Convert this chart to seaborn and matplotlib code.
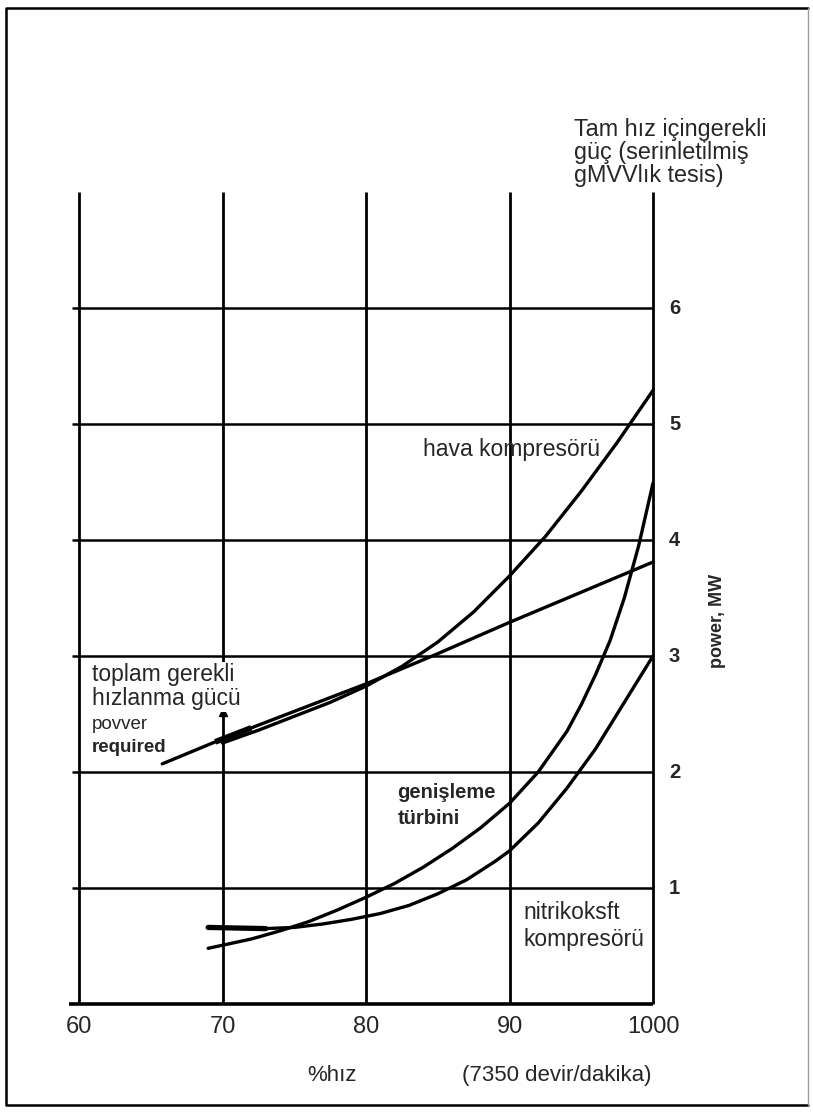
import numpy as np
import pandas as pd
import matplotlib
matplotlib.use('Agg')
import matplotlib.pyplot as plt
from matplotlib.lines import Line2D
import seaborn as sns

# % speed ticks and power ticks (MW)
x_ticks = [60, 70, 80, 90, 100]
x_tick_labels = ["60", "70", "80", "90", "1000"]
y_ticks = [1, 2, 3, 4, 5, 6]

# curves
total_x = [65.8, 69.5, 72, 76, 80, 85, 90, 95, 100]
total_y = [2.07, 2.26, 2.38, 2.57, 2.76, 3.02, 3.29, 3.55, 3.81]

air_x = [70, 72.5, 75, 77.5, 80, 82.5, 85, 87.5, 90, 92.5, 95, 97.5, 100]
air_y = [2.25, 2.36, 2.48, 2.60, 2.74, 2.91, 3.12, 3.38, 3.69, 4.03, 4.42, 4.84, 5.29]

turbine_x = [69, 72, 74, 76, 78, 80, 82, 84, 86, 88, 90, 92, 94, 95, 96, 97, 98, 99, 100]
turbine_y = [0.48, 0.56, 0.63, 0.71, 0.81, 0.92, 1.04, 1.18, 1.34, 1.52, 1.73, 2.0, 2.35,
             2.58, 2.84, 3.13, 3.50, 3.95, 4.49]

nox_x = [69, 71, 73, 75, 77, 79, 81, 83, 85, 87, 89, 90, 92, 94, 96, 98, 100]
nox_y = [0.66, 0.655, 0.65, 0.66, 0.69, 0.73, 0.78, 0.85, 0.95, 1.07, 1.23, 1.32, 1.56,
         1.86, 2.20, 2.60, 3.0]

curves = pd.concat([
    pd.DataFrame({"speed": total_x, "power": total_y, "curve": "total"}),
    pd.DataFrame({"speed": air_x, "power": air_y, "curve": "air"}),
    pd.DataFrame({"speed": turbine_x, "power": turbine_y, "curve": "turbine"}),
    pd.DataFrame({"speed": nox_x, "power": nox_y, "curve": "nox"}),
])

sns.set_style("white")
plt.rcParams['font.family'] = ['Liberation Sans', 'DejaVu Sans']

W, H = 813, 1113
fig = plt.figure(figsize=(W / 100, H / 100), dpi=100)
ax = fig.add_axes([0, 0, 1, 1])

# pixel calibration of the scan: 60 -> 79px, 100 -> 653px, 0 MW -> 1004px, 116 px per MW
px_per_x = (653 - 79) / 40
px_per_y = 116
ax.set_xlim(60 - 79 / px_per_x, 60 + (W - 79) / px_per_x)
ax.set_ylim(-(H - 1004) / px_per_y, 1004 / px_per_y)
ax.axis('off')

# grid
for xv in x_ticks:
    ax.vlines(xv, 0, 7, color='black', lw=2.0, zorder=1)
for yv in y_ticks:
    ax.hlines(yv, 59.5, 100, color='black', lw=1.8, zorder=1)
ax.hlines(0, 59.3, 100, color='black', lw=2.6, zorder=1)

sns.lineplot(data=curves, x="speed", y="power", units="curve", estimator=None,
             sort=False, color='black', lw=2.4, ax=ax, zorder=3, legend=False)
# thick start of the total line / flat start of the nox curve
ax.plot(total_x[1:3], total_y[1:3], color='black', lw=4.2, zorder=3, solid_capstyle='butt')
ax.plot(nox_x[:3], nox_y[:3], color='black', lw=3.8, zorder=3)
ax.plot([70], [2.52], marker='^', color='black', ms=6, zorder=4)

# tick labels
for xv, lab in zip(x_ticks, x_tick_labels):
    ax.text(xv, -0.2, lab, ha='center', va='center', fontsize=17)
for yv in y_ticks:
    ax.text(101.5, yv, str(yv), ha='center', va='center', fontsize=14.5, fontweight='bold')

ax.text(77.6, -0.62, "%hız", ha='center', va='center', fontsize=16)
ax.text(93.3, -0.62, "(7350 devir/dakika)", ha='center', va='center', fontsize=16)
ax.text(104.5, 3.3, "power, MW", rotation=90, ha='center', va='center',
        fontsize=13, fontweight='bold')

ax.text(94.5, 7.34, "Tam hız içingerekli\ngüç (serinletilmiş\ngMVVlık tesis)",
        ha='left', va='center', fontsize=16.8, linespacing=1.02)

box = dict(facecolor='white', edgecolor='none', pad=1)
ax.text(60.9, 2.84, "toplam gerekli", ha='left', va='center', fontsize=16.5, bbox=box, zorder=5)
ax.text(60.9, 2.63, "hızlanma gücü", ha='left', va='center', fontsize=16.5, bbox=box, zorder=5)
ax.text(60.9, 2.41, "povver", ha='left', va='center', fontsize=13.5)
ax.text(60.9, 2.21, "required", ha='left', va='center', fontsize=13.5, fontweight='bold')

ax.text(84.0, 4.78, "hava kompresörü", ha='left', va='center', fontsize=16.5)
ax.text(82.2, 1.82, "genişleme", ha='left', va='center', fontsize=14.5, fontweight='bold')
ax.text(82.2, 1.60, "türbini", ha='left', va='center', fontsize=14.5, fontweight='bold')
ax.text(91.0, 0.79, "nitrikoksft", ha='left', va='center', fontsize=16.5)
ax.text(91.0, 0.56, "kompresörü", ha='left', va='center', fontsize=16.5)

# scan frame: dark on three sides, faint on the right
l, r, b, t = 6 / W, 808 / W, 1 - 1105 / H, 1 - 8 / H
fig.add_artist(Line2D([r, l, l, r], [t, t, b, b], transform=fig.transFigure,
                      color='black', lw=1.8))
fig.add_artist(Line2D([r, r], [b, t], transform=fig.transFigure, color='#9a9a9a', lw=1.0))

fig.savefig("out.png", dpi=100)
